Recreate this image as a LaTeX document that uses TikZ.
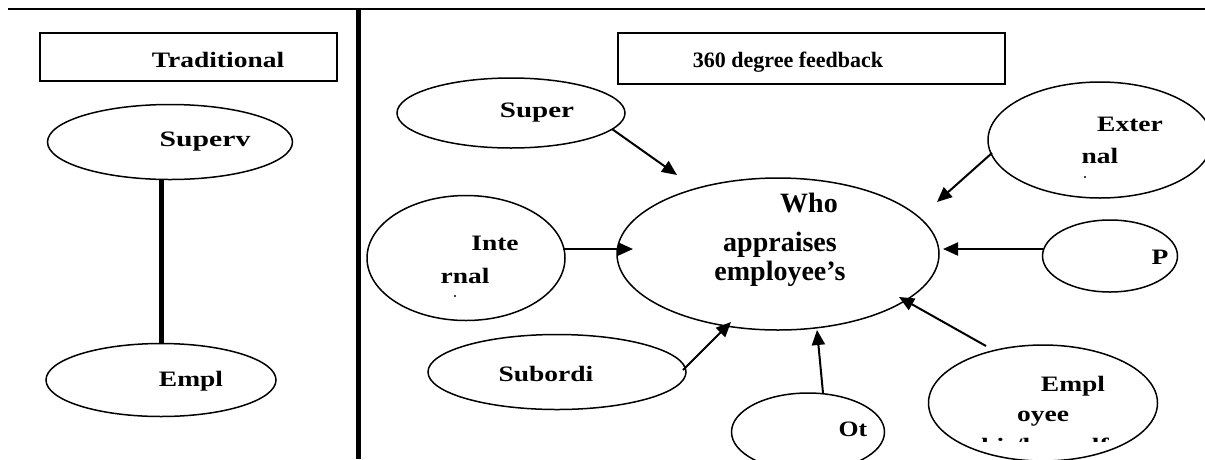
\documentclass[tikz,border=0pt]{standalone}
\usepackage{fontspec}
\setmainfont{Liberation Serif}
\usetikzlibrary{arrows.meta,shapes.geometric}
\newcommand\widetxt[1]{\scalebox{1.25}[1]{#1}}
\tikzset{
  oval/.style={draw=black,line width=1.5pt,ellipse,inner sep=0pt,fill=white},
  titlebox/.style={draw=black,line width=2pt,fill=white},
  lbl/.style={font=\fontsize{22}{26}\selectfont\bfseries,inner sep=0pt,anchor=center},
  biglbl/.style={font=\fontsize{28}{32}\selectfont\bfseries,inner sep=0pt,anchor=base},
  arr/.style={line width=2pt,-{Triangle[length=15pt,width=13pt]}},
  thick line/.style={line width=5pt},
}
\begin{document}
\begin{tikzpicture}[x=1pt,y=-1pt]
\clip (0,0) rectangle (1205,459);
\fill[white] (0,0) rectangle (1205,459);
% frame lines
\coordinate (hl) at (8,9);
\coordinate (hr) at (1205,9);
\coordinate (vt) at (358,9);
\coordinate (vb) at (358,459);
\draw[line width=2pt] (hl) -- (hr);
\draw[thick line] (vt) -- (vb);
% traditional side
\node[titlebox,minimum width=297pt,minimum height=48pt] (trad) at (188.5,57) {};
\node[lbl] (tradt) at (218,60) {\widetxt{Traditional}};
\node[oval,minimum width=245pt,minimum height=75pt] (sup) at (170,142) {};
\node[lbl] (supt) at (205,142) {\scalebox{1.35}[1]{Superv}};
\node[oval,minimum width=230pt,minimum height=73pt] (emp) at (161,380) {};
\node[lbl] (empt) at (191,381) {\widetxt{Empl}};
\draw[thick line] (emp.north) -- (emp.north |- sup.south);
% 360 side
\node[titlebox,minimum width=387pt,minimum height=51pt] (fb) at (811.5,58.5) {};
\node[lbl] (fbt) at (788,62) {360 degree feedback};
\node[oval,minimum width=322pt,minimum height=152pt] (who) at (778,254) {};
\node[biglbl] (who1) at (809,212) {Who};
\node[biglbl] (who2) at (780,251) {appraises};
\node[biglbl] (who3) at (780,280) {employee’s};
\node[oval,minimum width=228pt,minimum height=70pt] (super) at (511,113) {};
\node[lbl] (supert) at (537,113) {\scalebox{1.32}[1]{Super}};
\node[oval,minimum width=224pt,minimum height=116pt] (ext) at (1100,140) {};
\node[lbl] (ext1) at (1130,124) {\widetxt{Exter}};
\node[lbl] (ext2) at (1100,156) {\widetxt{nal}};
\fill (1085,177) circle (1.2pt);
\node[oval,minimum width=198pt,minimum height=125pt] (int) at (466,258) {};
\node[lbl] (int1) at (495,243) {\widetxt{Inte}};
\node[lbl] (int2) at (465,276) {\widetxt{rnal}};
\fill (455,296) circle (1.2pt);
\node[oval,minimum width=135pt,minimum height=72pt] (p) at (1110,256) {};
\node[lbl] (pt) at (1160,257) {\widetxt{P}};
\node[oval,minimum width=258pt,minimum height=75pt] (sub) at (557,372) {};
\node[lbl] (subt) at (546,374) {\widetxt{Subordi}};
\node[oval,minimum width=153pt,minimum height=78pt] (ot) at (808,432) {};
\node[lbl] (ott) at (853,429) {\scalebox{1.17}[1]{Ot}};
\node[oval,minimum width=229pt,minimum height=116pt] (es) at (1043,403) {};
\node[lbl] (es1) at (1073,386) {\widetxt{Empl}};
\node[lbl] (es2) at (1043,419) {\widetxt{oyee}};
\begin{scope}
\clip (900,300) rectangle (1205,441);
\node[lbl] (es3) at (1045,446) {\widetxt{his/her self}};
\end{scope}
% arrow coordinates
\coordinate (s1) at (612,129); \coordinate (t1) at (677,175);
\coordinate (s2) at (992,153); \coordinate (t2) at (937,202);
\coordinate (s3) at (563,249); \coordinate (t3) at (633,249);
\coordinate (s4) at (1043,249); \coordinate (t4) at (943,249);
\coordinate (s5) at (683,370); \coordinate (t5) at (731,322);
\coordinate (s6) at (823,393); \coordinate (t6) at (817,330);
\coordinate (s7) at (986,346); \coordinate (t7) at (899,297);
\foreach \i in {1,...,7} {\draw[arr] (s\i) -- (t\i);}
\end{tikzpicture}
\end{document}
